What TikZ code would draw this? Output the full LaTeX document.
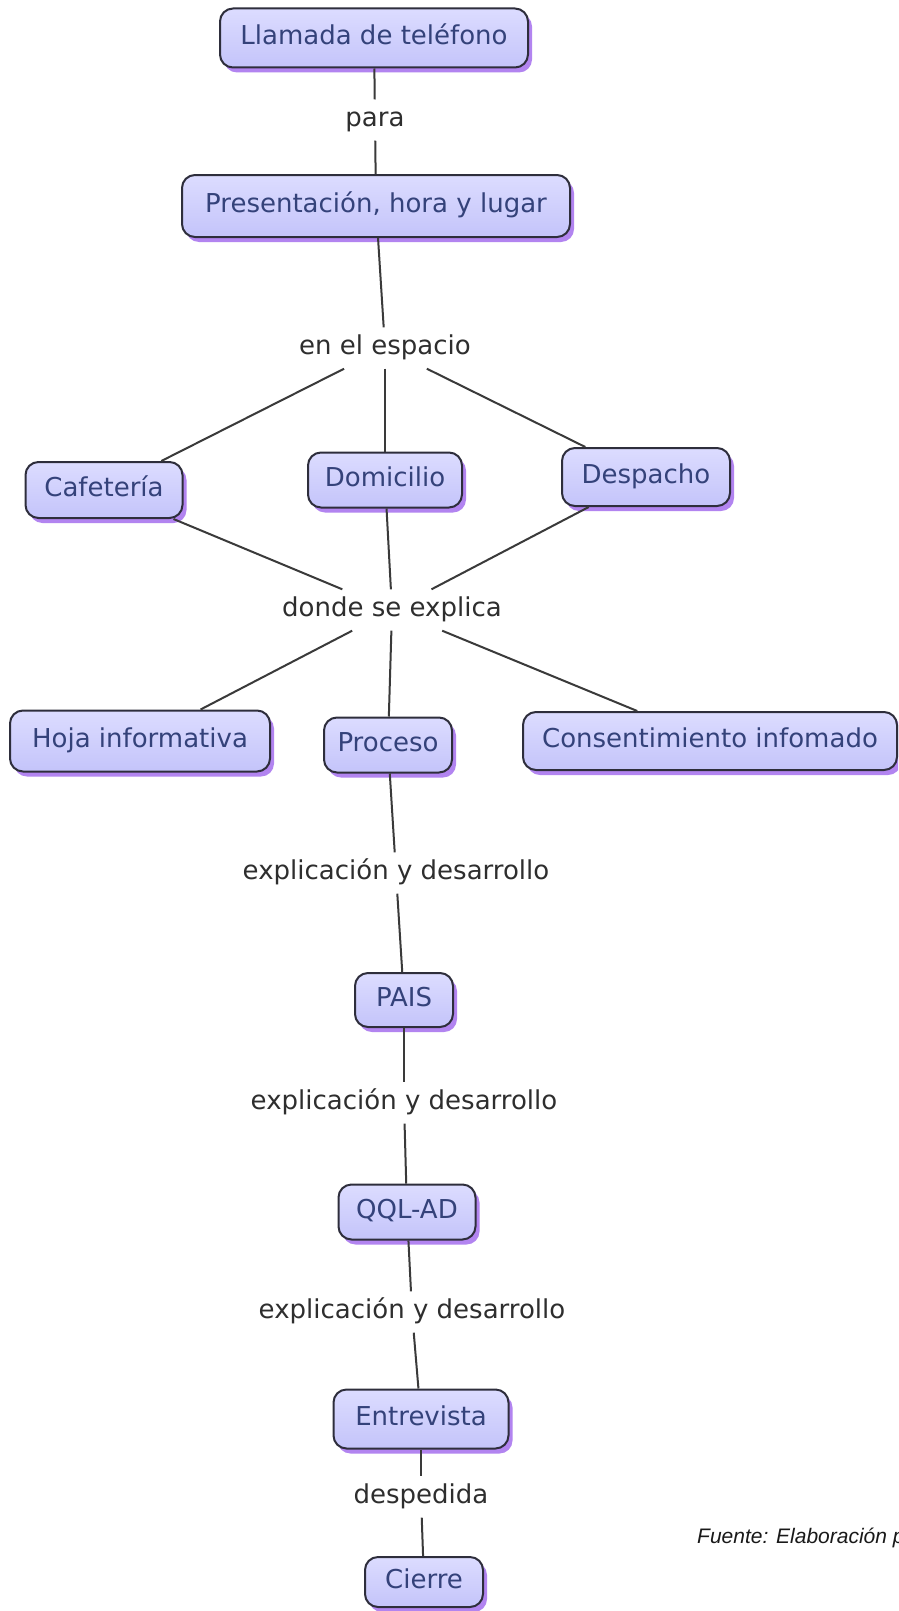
\documentclass[tikz,border=0pt]{standalone}
\usepackage{fontspec}
\setmainfont{DejaVu Sans}
\newfontfamily\fuentefont{Liberation Sans}
\usetikzlibrary{shadows}
\definecolor{boxtop}{HTML}{DCDCFF}
\definecolor{boxbot}{HTML}{C4C4FA}
\definecolor{boxline}{HTML}{2E2E3C}
\definecolor{boxtext}{HTML}{34427A}
\definecolor{shadowcol}{HTML}{B284F0}
\definecolor{linecol}{HTML}{3A3A3A}
\definecolor{linktext}{HTML}{2E2E2E}
\begin{document}
\begin{tikzpicture}[x=1pt,y=-1pt,
  concept/.style={draw=boxline, line width=2pt, rounded corners=13pt,
    top color=boxtop, bottom color=boxbot, text=boxtext,
    font=\fontsize{26}{30}\selectfont, text height=19pt, text depth=6pt, inner sep=0pt,
    general shadow={fill=shadowcol, shadow xshift=4pt, shadow yshift=-5pt}},
  link/.style={text=linktext, font=\fontsize{26}{30}\selectfont,
    text height=19pt, text depth=6pt, inner xsep=4pt, inner ysep=8pt},
  conn/.style={draw=linecol, line width=2pt}
]
\path[use as bounding box, fill=white] (0,0) rectangle (898,1611);
\clip (0,0) rectangle (898,1611);

% concepts
\node[concept, minimum width=308pt, minimum height=59pt] (tel) at (374,38) {Llamada de teléfono};
\node[concept, minimum width=388pt, minimum height=62pt] (pres) at (376,206) {Presentación, hora y lugar};
\node[concept, minimum width=157pt, minimum height=56pt] (caf) at (104,490) {Cafetería};
\node[concept, minimum width=154pt, minimum height=55pt] (dom) at (385,480) {Domicilio};
\node[concept, minimum width=168pt, minimum height=58pt] (desp) at (646,477) {Despacho};
\node[concept, minimum width=260pt, minimum height=61pt] (hoja) at (140,741) {Hoja informativa};
\node[concept, minimum width=128pt, minimum height=55pt] (proc) at (388,745) {Proceso};
\node[concept, minimum width=374pt, minimum height=58pt] (cons) at (710,741) {Consentimiento infomado};
\node[concept, minimum width=98pt, minimum height=54pt] (pais) at (404,1000) {PAIS};
\node[concept, minimum width=137pt, minimum height=55pt] (qql) at (407,1212) {QQL-AD};
\node[concept, minimum width=175pt, minimum height=59pt] (entr) at (421,1419) {Entrevista};
\node[concept, minimum width=118pt, minimum height=50pt] (cierre) at (424,1582) {Cierre};

% linking phrases
\node[link] (para) at (375,120) {para};
\node[link] (esp) at (385,348) {en el espacio};
\node[link] (donde) at (392,610) {donde se explica};
\node[link] (exp1) at (396,873) {explicación y desarrollo};
\node[link] (exp2) at (404,1103) {explicación y desarrollo};
\node[link] (exp3) at (412,1312) {explicación y desarrollo};
\node[link] (desped) at (421,1497) {despedida};

% connectors
\draw[conn] (tel) -- (para);
\draw[conn] (para) -- (pres);
\draw[conn] (pres) -- (esp);
\draw[conn] (esp) -- (caf);
\draw[conn] (esp) -- (dom);
\draw[conn] (esp) -- (desp);
\draw[conn] (caf) -- (donde);
\draw[conn] (dom) -- (donde);
\draw[conn] (desp) -- (donde);
\draw[conn] (donde) -- (hoja);
\draw[conn] (donde) -- (proc);
\draw[conn] (donde) -- (cons);
\draw[conn] (proc) -- (exp1);
\draw[conn] (exp1) -- (pais);
\draw[conn] (pais) -- (exp2);
\draw[conn] (exp2) -- (qql);
\draw[conn] (qql) -- (exp3);
\draw[conn] (exp3) -- (entr);
\draw[conn] (entr) -- (desped);
\draw[conn] (desped) -- (cierre);

% source note
\node[anchor=base west, inner sep=0pt, text=black!90,
  font=\fuentefont\itshape\fontsize{21}{25}\selectfont] (fuente) at (697,1543) {Fuente: Elaboración p};
\end{tikzpicture}
\end{document}
